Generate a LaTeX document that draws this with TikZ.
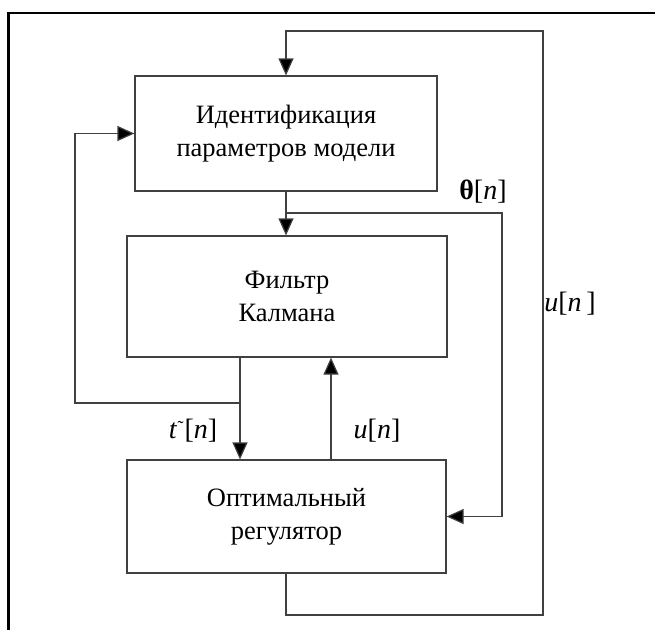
\documentclass[tikz,border=0pt]{standalone}
\usepackage{fontspec}
\setmainfont{Liberation Serif}
\usetikzlibrary{arrows.meta}
\begin{document}
\begin{tikzpicture}[x=1pt,y=-1pt,
  blk/.style={draw=black!75,line width=1.2pt,inner sep=0pt,align=center,
    font=\fontsize{26.5}{33}\selectfont},
  ln/.style={draw=black!75,line width=1.2pt},
  arr/.style={ln,-{Triangle[length=17pt,width=15pt,fill=black]}},
  lbl/.style={inner sep=0pt,font=\fontsize{28}{30}\selectfont}]
\useasboundingbox (0,0) rectangle (655,630);
\draw[line width=2.4pt,black] (8.5,630) -- (8.5,13) -- (655,13);
\node[blk,minimum width=302pt,minimum height=115pt] (b1) at (286,133.5)
  {Идентификация\\параметров модели};
\node[blk,minimum width=320pt,minimum height=121pt] (b2) at (287,296.5)
  {Фильтр\\Калмана};
\node[blk,minimum width=319pt,minimum height=113pt] (b3) at (286.5,516.5)
  {Оптимальный\\регулятор};
\coordinate (tl) at (286,31);
\coordinate (tr) at (543,31);
\coordinate (br) at (543,615);
\coordinate (bl) at (286,615);
\draw[arr] (b3.south -| bl) -- (bl) -- (br) -- (tr) -- (tl) -- (tl |- b1.north);
\coordinate (th) at (286,213);
\coordinate (thr) at (502,213);
\draw[arr] (b1.south -| th) -- (th |- b2.north);
\draw[arr] (th) -- (thr) -- (thr |- b3.east) -- (b3.east);
\coordinate (k) at (240,403);
\coordinate (kl) at (75,403);
\draw[arr] (b2.south -| k) -- (k |- b3.north);
\draw[arr] (k) -- (kl) -- (kl |- b1.west) -- (b1.west);
\coordinate (uc) at (331,460);
\draw[arr] (b3.north -| uc) -- (uc |- b2.south);
\node[lbl] (lth) at (483,192) {\textbf{θ}[\textit{n}]};
\node[lbl] (lu1) at (570,304) {\textit{u}[\textit{n}\,]};
\node[lbl] (lt) at (193,431) {\textit{t}\kern0.5pt\raisebox{0.45ex}{\fontsize{18}{18}\selectfont\char"02DC}\kern1pt[\textit{n}]};
\node[lbl] (lu2) at (377,431) {\textit{u}[\textit{n}]};
\end{tikzpicture}
\end{document}
